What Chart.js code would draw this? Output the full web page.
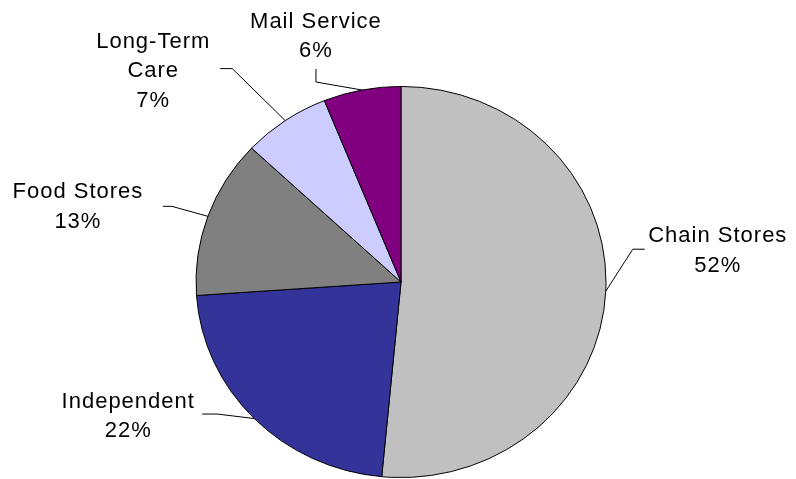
<!DOCTYPE html>
<html>
<head>
<meta charset="utf-8">
<script src="https://cdn.jsdelivr.net/npm/chart.js@4.4.1/dist/chart.umd.min.js"></script>
<style>
  html, body { margin: 0; padding: 0; background: #fff; }
  canvas { display: block; }
</style>
</head>
<body>
<canvas id="shareChart" width="796" height="479"></canvas>
<script>
/* share of sales by outlet */
const categories = [
  'Chain Stores',
  'Independent',
  'Food Stores',
  ['Long-Term', 'Care'],
  'Mail Service'
];
const shares = [51.5, 22.4, 13.1, 6.9, 6.1];
const sliceColors = ['#C0C0C0', '#333399', '#808080', '#CCCCFF', '#800080'];

// the pie in the picture is a bit flatter than wide
const squash = 0.954;

// leader line + text placement, offsets from the slice's outer edge point
const labelSpots = [
  { elbow: [27, -42], end: [39, -42], text: [112, -49] },
  { elbow: [-37, -4.5], end: [-52, -4.5], text: [-126, -11] },
  { elbow: [-36, -10], end: [-45, -10], text: [-130, -18] },
  { elbow: [-53, -52], end: [-65, -52], text: [-132, -73] },
  { elbow: [-46, -8], end: [-46, -21], text: [-46, -62.5] }
];

const squashPlugin = {
  id: 'squash',
  beforeDatasetsDraw(chart) {
    const arc = chart.getDatasetMeta(0).data[0];
    const ctx = chart.ctx;
    ctx.save();
    ctx.translate(arc.x, arc.y);
    ctx.scale(1, squash);
    ctx.translate(-arc.x, -arc.y);
  },
  afterDatasetsDraw(chart) {
    chart.ctx.restore();
  }
};

const leaderLabels = {
  id: 'leaderLabels',
  afterDraw(chart) {
    const ctx = chart.ctx;
    const values = chart.data.datasets[0].data;
    const total = values.reduce((a, b) => a + b, 0);
    ctx.save();
    ctx.strokeStyle = '#000';
    ctx.lineWidth = 1;
    ctx.fillStyle = '#000';
    ctx.font = '22px "Liberation Sans", Arial, sans-serif';
    ctx.letterSpacing = '1px';
    ctx.textAlign = 'center';
    ctx.textBaseline = 'alphabetic';
    chart.getDatasetMeta(0).data.forEach((arc, i) => {
      const mid = (arc.startAngle + arc.endAngle) / 2;
      const ex = arc.x + Math.cos(mid) * arc.outerRadius;
      const ey = arc.y + Math.sin(mid) * arc.outerRadius * squash;
      const spot = labelSpots[i];
      ctx.beginPath();
      ctx.moveTo(ex, ey);
      ctx.lineTo(ex + spot.elbow[0], ey + spot.elbow[1]);
      ctx.lineTo(ex + spot.end[0], ey + spot.end[1]);
      ctx.stroke();
      let lines = chart.data.labels[i];
      lines = Array.isArray(lines) ? lines.slice() : [lines];
      lines.push(Math.round(values[i] / total * 100) + '%');
      lines.forEach((t, k) => {
        ctx.fillText(t, ex + spot.text[0], ey + spot.text[1] + k * 29.5);
      });
    });
    ctx.restore();
  }
};

const data = {
  labels: categories,
  datasets: [{
    data: shares,
    backgroundColor: sliceColors,
    borderColor: '#000',
    borderWidth: 1,
    radius: 205
  }]
};

const config = {
  type: 'pie',
  data: data,
  options: {
    responsive: false,
    animation: false,
    layout: {
      padding: { top: 85, bottom: 0, left: 6, right: 0 }
    },
    plugins: {
      legend: { display: false },
      tooltip: { enabled: false }
    }
  },
  plugins: [squashPlugin, leaderLabels]
};

var myChart = new Chart(
  document.getElementById('shareChart'),
  config
);
</script>
</body>
</html>
